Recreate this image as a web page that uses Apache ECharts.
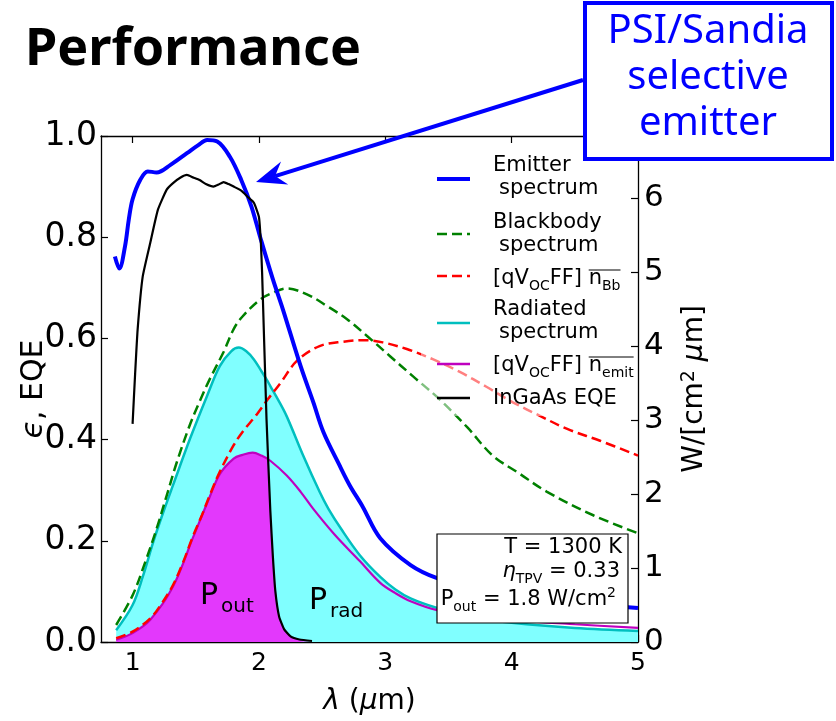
<!DOCTYPE html>
<html><head><meta charset="utf-8">
<script src="https://cdn.jsdelivr.net/npm/echarts@6/dist/echarts.min.js"></script>
<style>html,body{margin:0;padding:0;background:#fff}#c{width:836px;height:721px}</style>
</head><body><div id="c"></div>
<script>
// ---------- data ----------
const xTicks = [1, 2, 3, 4, 5];
const yLeftTicks = [0, 0.2, 0.4, 0.6, 0.8, 1.0];
const yRightTicks = [0, 1, 2, 3, 4, 5, 6];

// Emitter spectrum (left axis, emissivity)
const emitterLam = [0.86,0.895,0.94,0.97,1.0,1.06,1.12,1.19,1.30,1.43,1.52,1.59,1.67,1.77,1.86,1.94,2.01,2.11,2.19,2.33,2.43,2.51,2.64,2.72,2.82,2.96,3.20,3.41,3.7,4.0,4.5,5.0];
const emitterVal = [0.762,0.738,0.782,0.835,0.875,0.913,0.930,0.928,0.943,0.966,0.982,0.992,0.989,0.959,0.913,0.861,0.800,0.717,0.657,0.545,0.474,0.415,0.348,0.309,0.268,0.205,0.152,0.126,0.105,0.092,0.078,0.067];

// InGaAs EQE (left axis)
const eqeLam = [1.0,1.02,1.04,1.08,1.14,1.20,1.27,1.32,1.38,1.43,1.48,1.53,1.58,1.64,1.68,1.72,1.76,1.80,1.86,1.91,1.96,2.0,2.015,2.025,2.06,2.09,2.11,2.13,2.16,2.20,2.25,2.32,2.42];
const eqeVal = [0.431,0.53,0.618,0.722,0.789,0.854,0.894,0.907,0.918,0.923,0.918,0.913,0.905,0.900,0.904,0.909,0.905,0.900,0.892,0.880,0.868,0.840,0.79,0.73,0.44,0.26,0.17,0.10,0.05,0.025,0.011,0.005,0.002];

// Blackbody spectrum (right axis, W/[cm2 um])
const bbLam = [0.87,1.0,1.1,1.19,1.27,1.35,1.45,1.53,1.61,1.72,1.80,1.87,2.01,2.11,2.22,2.38,2.54,2.70,2.86,3.04,3.22,3.43,3.65,3.85,4.05,4.28,4.65,5.0];
const bbVal = [0.23,0.63,1.08,1.53,1.98,2.43,2.92,3.25,3.55,3.92,4.23,4.40,4.63,4.72,4.78,4.70,4.54,4.36,4.13,3.86,3.59,3.28,2.90,2.52,2.29,2.03,1.71,1.47];

// [qVoc FF] n_Bb (right axis)
const nbbLam = [0.87,1.0,1.14,1.23,1.32,1.40,1.48,1.55,1.61,1.69,1.80,1.87,1.98,2.07,2.17,2.30,2.48,2.67,2.83,2.98,3.17,3.38,3.59,3.80,4.01,4.22,4.44,4.70,5.0];
const nbbVal = [0.05,0.14,0.32,0.52,0.77,1.08,1.44,1.72,1.98,2.30,2.66,2.84,3.07,3.28,3.50,3.80,4.00,4.06,4.08,4.05,3.96,3.82,3.65,3.45,3.24,3.06,2.88,2.72,2.52];

// Radiated spectrum (right axis)
const radLam = [0.87,1.0,1.08,1.165,1.24,1.32,1.455,1.59,1.69,1.78,1.84,1.90,1.96,2.02,2.06,2.09,2.15,2.22,2.35,2.48,2.55,2.65,2.80,2.96,3.08,3.20,3.41,3.7,4.0,4.5,5.0];
const radVal = [0.16,0.50,0.88,1.36,1.74,2.12,2.75,3.33,3.73,3.93,3.98,3.93,3.82,3.66,3.55,3.46,3.28,3.05,2.52,2.03,1.80,1.53,1.17,0.88,0.71,0.59,0.46,0.33,0.26,0.19,0.15];

// [qVoc FF] n_emit (right axis)
const nemLam = [0.87,1.0,1.14,1.32,1.48,1.61,1.69,1.80,1.87,1.95,2.02,2.09,2.22,2.33,2.43,2.6,2.8,2.96,3.08,3.2,3.41,3.7,4.0,4.5,5.0];
const nemVal = [0.03,0.12,0.30,0.75,1.42,1.96,2.27,2.48,2.53,2.56,2.52,2.45,2.25,2.03,1.80,1.45,1.09,0.80,0.66,0.55,0.43,0.36,0.30,0.24,0.19];

// P_out shaded region upper edge (right axis)
const pOutLam = [0.87,1.0,1.14,1.32,1.48,1.61,1.69,1.80,1.87,1.95,2.02,2.07,2.09,2.11,2.13,2.16,2.20,2.25,2.32,2.42];
const pOutVal = [0.03,0.12,0.30,0.75,1.42,1.96,2.27,2.48,2.53,2.56,2.52,2.47,1.78,1.16,0.68,0.34,0.17,0.075,0.034,0.014];

const xMin = 0.75, xMax = 5, yLeftMax = 1.0, yRightMax = 6.84;

// ---------- helpers ----------
const pair = (xs, ys) => xs.map((x, i) => [x, ys[i]]);
const mctx = document.createElement('canvas').getContext('2d');
const FAM = '"DejaVu Sans"';
function fontStr(p) { return (p.it ? 'italic ' : '') + p.s + 'px ' + FAM; }
function tw(p) { mctx.font = fontStr(p); return mctx.measureText(p.t).width; }
function compose(pieces, x, baseY, align, color, z) {
  const total = pieces.reduce((a, p) => a + tw(p) + (p.dx || 0), 0);
  let cx = align === 'left' ? x : align === 'right' ? x - total : x - total / 2;
  const els = [], pos = [];
  pieces.forEach(p => {
    cx += (p.dx || 0);
    const w = tw(p);
    els.push({ type: 'text', z: z, silent: true, style: {
      x: cx, y: baseY + (p.dy || 0) - 0.346 * p.s, text: p.t, font: fontStr(p),
      fill: color || '#000', textAlign: 'left', verticalAlign: 'middle', textVerticalAlign: 'middle' } });
    pos.push([cx, w]);
    cx += w;
  });
  return { els, pos };
}

const G = [];
G.push({ type: 'text', z: 20, style: { x: 25, y: 50, text: 'Performance', font: 'bold 52px "Noto Sans"', fill: '#000', verticalAlign: 'middle', textVerticalAlign: 'middle' } });
G.push({ type: 'rect', z: 20, shape: { x: 585, y: 3, width: 247, height: 156 }, style: { fill: '#fff', stroke: '#0000ff', lineWidth: 4 } });
['PSI/Sandia', 'selective', 'emitter'].forEach((t, i) => {
  G.push({ type: 'text', z: 21, style: { x: 708, y: 32 + i * 46, text: t, font: '40px "Noto Sans"', fill: '#0000ff', textAlign: 'center', verticalAlign: 'middle', textVerticalAlign: 'middle' } });
});
(function () {
  const tip = [256, 182], start = [583, 80];
  const dx = start[0] - tip[0], dy = start[1] - tip[1], L = Math.hypot(dx, dy);
  const ux = dx / L, uy = dy / L, px = -uy, py = ux;
  const hl = 30, hw = 12, nt = 20;
  G.push({ type: 'line', z: 20, shape: { x1: start[0], y1: start[1], x2: tip[0] + ux * nt, y2: tip[1] + uy * nt }, style: { stroke: '#0000ff', lineWidth: 4 } });
  G.push({ type: 'polygon', z: 20, shape: { points: [tip, [tip[0] + ux * hl + px * hw, tip[1] + uy * hl + py * hw], [tip[0] + ux * nt, tip[1] + uy * nt], [tip[0] + ux * hl - px * hw, tip[1] + uy * hl - py * hw]] }, style: { fill: '#0000ff' } });
})();

G.push({ type: 'rect', z: 10, shape: { x: 421, y: 150, width: 190, height: 266 }, style: { fill: 'rgba(255,255,255,0.5)' } });
const legLine = (y, color, w, dash) => G.push({ type: 'line', z: 11, shape: { x1: 437, y1: y, x2: 470, y2: y }, style: { stroke: color, lineWidth: w, lineDash: dash || null } });
legLine(179, '#0000ff', 4);
legLine(234, '#008000', 2.5, [10, 5]);
legLine(276, '#ff0000', 2.5, [10, 5]);
legLine(323, '#00bfbf', 2.5);
legLine(364, '#bf00bf', 2.5);
legLine(398, '#000000', 2.5);
const L21 = t => ({ t, s: 21 });
const S14 = t => ({ t, s: 14, dy: 5 });
const addC = c => c.els.forEach(e => G.push(e));
addC(compose([L21('Emitter')], 493, 173, 'left', '#000', 11));
addC(compose([L21('spectrum')], 499, 196, 'left', '#000', 11));
addC(compose([L21('Blackbody')], 493, 230, 'left', '#000', 11));
addC(compose([L21('spectrum')], 499, 253, 'left', '#000', 11));
function qvLabel(sub, baseY) {
  const c = compose([L21('[qV'), S14('OC'), L21('FF] '), L21('n'), S14(sub)], 493, baseY, 'left', '#000', 11);
  addC(c);
  const x1 = c.pos[3][0], x2 = c.pos[4][0] + c.pos[4][1];
  G.push({ type: 'line', z: 11, shape: { x1: x1, y1: baseY - 16, x2: x2, y2: baseY - 16 }, style: { stroke: '#000', lineWidth: 1 } });
}
qvLabel('Bb', 286);
addC(compose([L21('Radiated')], 493, 317, 'left', '#000', 11));
addC(compose([L21('spectrum')], 499, 340, 'left', '#000', 11));
qvLabel('emit', 373);
addC(compose([L21('InGaAs EQE')], 493, 406, 'left', '#000', 11));

G.push({ type: 'rect', z: 12, shape: { x: 437, y: 534, width: 191, height: 89 }, style: { fill: '#fff', stroke: '#000', lineWidth: 1.2 } });
addC(compose([L21('T = 1300 K')], 622, 555, 'right', '#000', 13));
addC(compose([{ t: 'η', s: 21, it: true }, S14('TPV'), L21(' = 0.33')], 620, 579, 'right', '#000', 13));
addC(compose([L21('P'), S14('out'), L21(' = 1.8 W/cm'), { t: '2', s: 14, dy: -9 }], 616, 607, 'right', '#000', 13));

addC(compose([{ t: 'P', s: 30 }, { t: 'out', s: 20, dy: 7, dx: 3 }], 200, 607, 'left', '#000', 9));
addC(compose([{ t: 'P', s: 30 }, { t: 'rad', s: 20, dy: 7, dx: 3 }], 309, 612, 'left', '#000', 9));

const axisFont = { fontFamily: 'DejaVu Sans', color: '#000' };
const lineSeries = (name, xs, ys, yIdx, color, width, dash, z, sm) => ({
  name, type: 'line', xAxisIndex: 0, yAxisIndex: yIdx, data: pair(xs, ys), showSymbol: false, symbol: 'none',
  smooth: sm === undefined ? 0.35 : sm, z: z, animation: false,
  lineStyle: { color, width, type: dash ? dash : 'solid' }
});

const option = {
  animation: false,
  backgroundColor: '#fff',
  grid: { left: 101, right: 198, top: 136, bottom: 77, containLabel: false },
  xAxis: [
    { type: 'value', position: 'bottom', min: xMin, max: xMax,
      axisLine: { show: true, onZero: false, lineStyle: { color: '#000', width: 1.3 } },
      axisTick: { show: true, inside: true, length: 7, customValues: xTicks, lineStyle: { color: '#000', width: 1.2 } },
      axisLabel: { show: true, customValues: xTicks, fontSize: 25, margin: 9, ...axisFont },
      splitLine: { show: false },
      name: '{i|λ} ({i|μ}m)', nameLocation: 'middle', nameGap: 46, nameMoveOverlap: false,
      nameTextStyle: { fontSize: 28, ...axisFont, rich: { i: { fontStyle: 'italic', fontSize: 28, fontFamily: 'DejaVu Sans', color: '#000' } } } },
    { type: 'value', position: 'top', min: xMin, max: xMax,
      axisLine: { show: true, onZero: false, lineStyle: { color: '#000', width: 1.3 } },
      axisTick: { show: true, inside: true, length: 7, customValues: xTicks, lineStyle: { color: '#000', width: 1.2 } },
      axisLabel: { show: false }, splitLine: { show: false } }
  ],
  yAxis: [
    { type: 'value', position: 'left', min: 0, max: yLeftMax, interval: 0.2,
      axisLine: { show: true, onZero: false, lineStyle: { color: '#000', width: 1.3 } },
      axisTick: { show: true, inside: true, length: 7, lineStyle: { color: '#000', width: 1.2 } },
      axisLabel: { fontSize: 33, margin: 4, formatter: v => v.toFixed(1), ...axisFont },
      splitLine: { show: false },
      name: '{i|ϵ}, EQE', nameLocation: 'middle', nameRotate: 90, nameGap: 52, nameMoveOverlap: false,
      nameTextStyle: { fontSize: 30, ...axisFont, rich: { i: { fontStyle: 'italic', fontSize: 30, fontFamily: 'DejaVu Sans', color: '#000' } } } },
    { type: 'value', position: 'right', min: 0, max: yRightMax,
      axisLine: { show: true, onZero: false, lineStyle: { color: '#000', width: 1.3 } },
      axisTick: { show: true, inside: true, length: 7, customValues: yRightTicks, lineStyle: { color: '#000', width: 1.2 } },
      axisLabel: { customValues: yRightTicks, fontSize: 31, margin: 6, ...axisFont },
      splitLine: { show: false },
      name: 'W/[cm{sup|2} {i|μ}m]', nameLocation: 'middle', nameRotate: 90, nameGap: 42,
      nameTextStyle: { fontSize: 28, ...axisFont, rich: {
        sup: { fontSize: 19, fontFamily: 'DejaVu Sans', color: '#000', verticalAlign: 'top', padding: [0, 0, 10, 0] },
        i: { fontStyle: 'italic', fontSize: 28, fontFamily: 'DejaVu Sans', color: '#000' } } } }
  ],
  series: [
    Object.assign(lineSeries('Radiated spectrum', radLam, radVal, 1, '#00bfbf', 2.5, null, 2), { areaStyle: { color: '#80ffff', opacity: 1 } }),
    Object.assign(lineSeries('P_out', pOutLam, pOutVal, 1, '#e338fc', 0, null, 3, 0.2), { areaStyle: { color: '#e338fc', opacity: 1 } }),
    lineSeries('[qVocFF] n_emit', nemLam, nemVal, 1, '#bf00bf', 2.2, null, 4),
    lineSeries('Blackbody spectrum', bbLam, bbVal, 1, '#008000', 2.5, [10, 5], 5),
    lineSeries('[qVocFF] n_Bb', nbbLam, nbbVal, 1, '#ff0000', 2.5, [10, 5], 5),
    lineSeries('Emitter spectrum', emitterLam, emitterVal, 0, '#0000ff', 4, null, 6),
    lineSeries('InGaAs EQE', eqeLam, eqeVal, 0, '#000000', 2.2, null, 7, 0.15)
  ],
  graphic: { elements: G }
};
const chart = echarts.init(document.getElementById('c'));
chart.setOption(option);
</script>
</body></html>
